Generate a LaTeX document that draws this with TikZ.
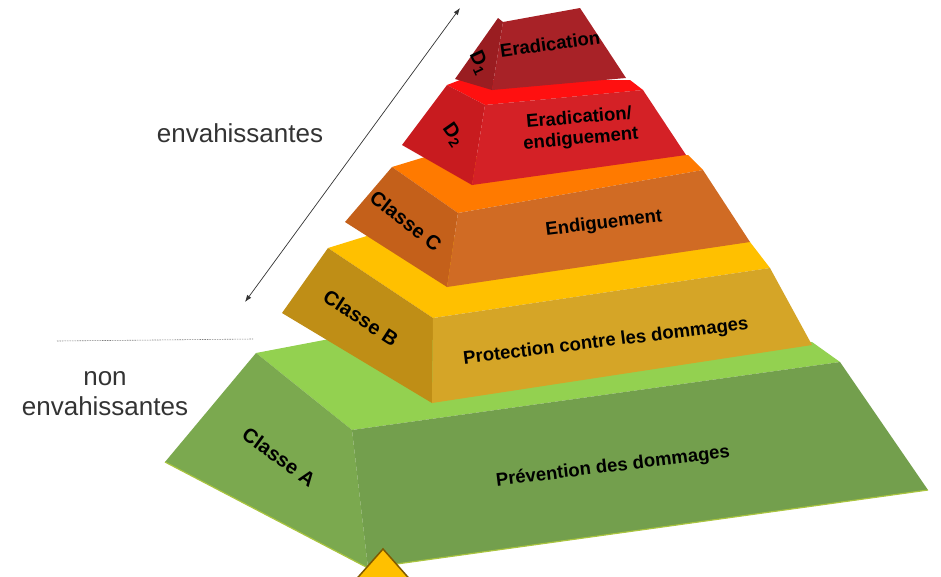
\documentclass[tikz,border=0pt]{standalone}
\usepackage{fontspec}
\setmainfont{Liberation Sans}
\usetikzlibrary{arrows.meta}

\definecolor{atop}{HTML}{93D150}
\definecolor{aleft}{HTML}{7BA94F}
\definecolor{afront}{HTML}{739F4D}
\definecolor{aedge}{HTML}{A9C43F}
\definecolor{btop}{HTML}{FFC000}
\definecolor{bleft}{HTML}{BF8E16}
\definecolor{bfront}{HTML}{D5A527}
\definecolor{ctop}{HTML}{FF7A00}
\definecolor{cleft}{HTML}{C4601A}
\definecolor{cfront}{HTML}{D06B24}
\definecolor{dtop}{HTML}{FF1010}
\definecolor{dleft}{HTML}{C81B1F}
\definecolor{dfront}{HTML}{D42126}
\definecolor{eleft}{HTML}{9A1D21}
\definecolor{efront}{HTML}{A82227}
\definecolor{warn}{HTML}{FFC000}
\definecolor{warnedge}{HTML}{7F5A00}

\begin{document}
\begin{tikzpicture}[x=1pt,y=-1pt,
    lbl/.style={font=\bfseries\fontsize{18.5}{21}\selectfont,text=black,rotate=7,align=center},
    side/.style={font=\bfseries\fontsize{20}{22}\selectfont,text=black},
    cat/.style={font=\fontsize{26}{30}\selectfont,text=black!80,align=center}]
\useasboundingbox (0,0) rectangle (941,576);

% Classe A
\fill[atop] (256,353) -- (352,430) -- (840,362) -- (812,342) -- (340,337) -- cycle;
\fill[aleft] (256,353) -- (352,430) -- (368,568) -- (165,462) -- cycle;
\fill[afront] (352,430) -- (840,362) -- (928,490) -- (368,568) -- cycle;
\draw[aedge,line width=1.2pt] (165,462) -- (368,568) -- (928,490);
% Classe B
\fill[btop] (328,248) -- (433,318) -- (770,268) -- (750,242) -- (370,235) -- cycle;
\fill[bleft] (328,248) -- (433,318) -- (432,403) -- (282,313) -- cycle;
\fill[bfront] (433,318) -- (770,268) -- (812,345) -- (432,403) -- cycle;
% Classe C
\fill[ctop] (392,167) -- (458,213) -- (703,170) -- (688,155) -- (425,157) -- cycle;
\fill[cleft] (392,167) -- (458,213) -- (447,287) -- (345,222) -- cycle;
\fill[cfront] (458,213) -- (703,170) -- (750,242) -- (447,287) -- cycle;
% D2
\fill[dtop] (447,85) -- (485,105) -- (643,90) -- (630,80) -- (460,80) -- cycle;
\fill[dleft] (447,85) -- (485,105) -- (472,185) -- (402,145) -- cycle;
\fill[dfront] (485,105) -- (643,90) -- (686,155) -- (472,185) -- cycle;
% D1
\fill[eleft] (498,18) -- (503,22) -- (492,90) -- (455,79) -- cycle;
\fill[efront] (503,22) -- (580,8) -- (626,78) -- (492,90) -- cycle;

\node[lbl] (prev) at (613,467) {Prévention des dommages};
\node[lbl] (prot) at (606,342) {Protection contre les dommages};
\node[lbl] (endig) at (604,224) {Endiguement};
\node[lbl,rotate=-2] (eradend) at (580,129) {Eradication/\\endiguement};
\node[lbl,rotate=1] (erad) at (550,44) {Eradication};

\node[side,rotate=-36] (clA) at (279,457) {Classe A};
\node[side,rotate=-33] (clB) at (361,318) {Classe B};
\node[side,rotate=-38] (clC) at (406,221) {Classe C};
\node[side,rotate=-55] (dtwo) at (453,135) {D\textsubscript{2}};
\node[side,rotate=-65] (done) at (479,63) {D\textsubscript{1}};

\node[cat] (inv) at (240,133) {envahissantes};
\node[cat] (noninv) at (105,394) {non\\envahissantes};

\coordinate (sepl) at (57,341);
\coordinate (sepr) at (253,339);
\draw[gray,line width=0.6pt,dash pattern=on 1.5pt off 1pt] (sepl) -- (sepr);

\coordinate (lo) at (245,302);
\coordinate (hi) at (460,8);
\draw[{Latex[length=7pt,width=5pt]}-{Latex[length=7pt,width=5pt]},line width=0.7pt,black!80] (lo) -- (hi);

\draw[fill=warn,draw=warnedge,line width=1.5pt,line join=miter] (383,549) -- (414,584) -- (352,584) -- cycle;
\end{tikzpicture}
\end{document}
